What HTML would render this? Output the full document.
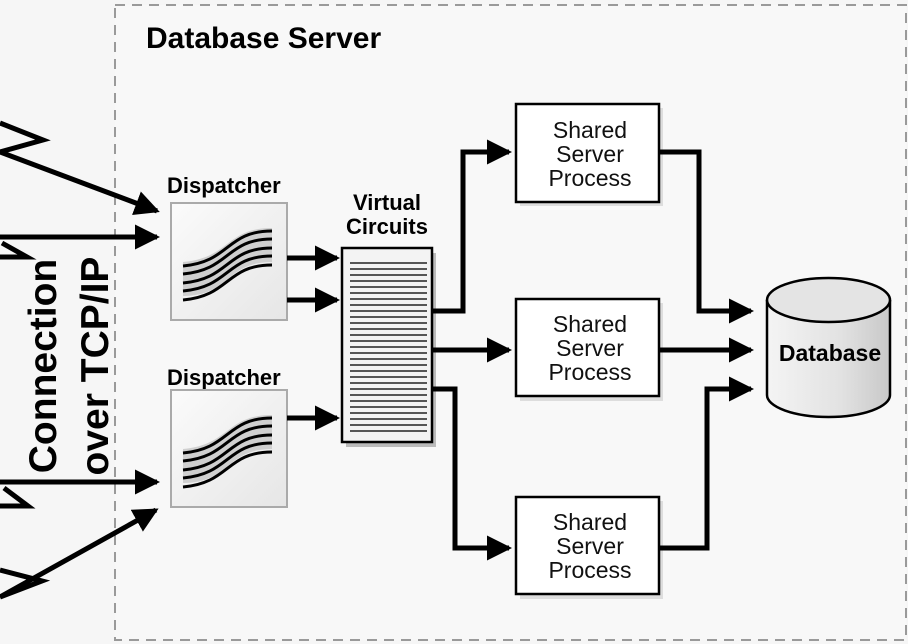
<!DOCTYPE html>
<html><head><meta charset="utf-8"><style>
html,body{margin:0;padding:0;background:#f6f6f6;}
svg{display:block;}
text{font-family:"Liberation Sans",Arial,sans-serif;}
</style></head><body>
<svg width="908" height="644" viewBox="0 0 908 644" xmlns="http://www.w3.org/2000/svg">
<defs>
<marker id="ah" markerWidth="5" markerHeight="5" refX="4.4" refY="2.5" orient="auto" markerUnits="strokeWidth">
<path d="M0,0 L5,2.5 L0,5 Z" fill="#000"/></marker>
<linearGradient id="dg" x1="0" y1="0" x2="1" y2="1"><stop offset="0" stop-color="#fbfbfb"/><stop offset="1" stop-color="#e6e6e6"/></linearGradient>
<linearGradient id="cg" x1="0" y1="0" x2="1" y2="0"><stop offset="0" stop-color="#f4f4f4"/><stop offset="0.6" stop-color="#e2e2e2"/><stop offset="1" stop-color="#c8c8c8"/></linearGradient>
</defs>
<rect x="0" y="0" width="908" height="644" fill="#f6f6f6"/>
<rect x="115" y="5" width="791" height="635" fill="#f8f8f8" stroke="#9a9a9a" stroke-width="2" stroke-dasharray="10,7"/>
<text x="146" y="48" font-size="30" font-weight="bold">Database Server</text>

<!-- incoming -->
<g fill="none" stroke="#000" stroke-width="5" stroke-linejoin="miter">
<polyline points="0,123 43,140 0,152"/>
<line x1="0" y1="152" x2="157" y2="211" marker-end="url(#ah)"/>
<line x1="0" y1="237" x2="157" y2="237" marker-end="url(#ah)"/>
<polyline points="2,243 27,257 0,257"/>
<line x1="0" y1="482" x2="157" y2="482" marker-end="url(#ah)"/>
<polyline points="4,488 28,506 0,506"/>
<polyline points="0,570 42,581 0,597"/>
<line x1="0" y1="597" x2="156" y2="510" marker-end="url(#ah)"/>
</g>

<text transform="translate(56,366) rotate(-90)" text-anchor="middle" font-size="39" font-weight="bold">Connection</text>
<text transform="translate(108,366) rotate(-90)" text-anchor="middle" font-size="39" font-weight="bold">over TCP/IP</text>

<!-- dispatchers -->
<text x="167" y="193" font-size="22" font-weight="bold">Dispatcher</text>
<text x="167" y="385" font-size="22" font-weight="bold">Dispatcher</text>
<g>
<rect x="171" y="203" width="116" height="117" fill="url(#dg)" stroke="#aaa" stroke-width="2"/>
<path d="M183,262 C230,258 226,228 272,228 L272,262 C226,262 230,296 183,296Z" fill="#cfcfcf"/>
<g fill="none" stroke="#000" stroke-width="3">
<path d="M183,266 C230,262 226,231 272,231"/>
<path d="M183,274 C230,270 226,239 272,239"/>
<path d="M183,283 C230,279 226,248 272,248"/>
<path d="M183,291 C230,287 226,256 272,256"/>
<path d="M183,300 C230,296 226,265 272,265"/>
</g>
</g>
<g transform="translate(0,187)">
<rect x="171" y="203" width="116" height="117" fill="url(#dg)" stroke="#aaa" stroke-width="2"/>
<path d="M183,262 C230,258 226,228 272,228 L272,262 C226,262 230,296 183,296Z" fill="#cfcfcf"/>
<g fill="none" stroke="#000" stroke-width="3">
<path d="M183,266 C230,262 226,231 272,231"/>
<path d="M183,274 C230,270 226,239 272,239"/>
<path d="M183,283 C230,279 226,248 272,248"/>
<path d="M183,291 C230,287 226,256 272,256"/>
<path d="M183,300 C230,296 226,265 272,265"/>
</g>
</g>

<!-- virtual circuits -->
<text x="387" y="210" text-anchor="middle" font-size="22" font-weight="bold">Virtual</text>
<text x="387" y="234" text-anchor="middle" font-size="22" font-weight="bold">Circuits</text>
<rect x="346" y="253" width="90" height="194" fill="#bbb"/>
<rect x="342" y="248" width="90" height="194" fill="#f3f3f3" stroke="#000" stroke-width="2.5"/>
<g stroke="#222" stroke-width="1.6">
<line x1="350" x2="427" y1="263" y2="263"/><line x1="350" x2="427" y1="269" y2="269"/><line x1="350" x2="427" y1="275" y2="275"/><line x1="350" x2="427" y1="281" y2="281"/><line x1="350" x2="427" y1="287" y2="287"/><line x1="350" x2="427" y1="293" y2="293"/><line x1="350" x2="427" y1="299" y2="299"/><line x1="350" x2="427" y1="305" y2="305"/><line x1="350" x2="427" y1="311" y2="311"/><line x1="350" x2="427" y1="317" y2="317"/><line x1="350" x2="427" y1="323" y2="323"/><line x1="350" x2="427" y1="329" y2="329"/><line x1="350" x2="427" y1="335" y2="335"/><line x1="350" x2="427" y1="341" y2="341"/><line x1="350" x2="427" y1="347" y2="347"/><line x1="350" x2="427" y1="353" y2="353"/><line x1="350" x2="427" y1="359" y2="359"/><line x1="350" x2="427" y1="365" y2="365"/><line x1="350" x2="427" y1="371" y2="371"/><line x1="350" x2="427" y1="377" y2="377"/><line x1="350" x2="427" y1="383" y2="383"/><line x1="350" x2="427" y1="389" y2="389"/><line x1="350" x2="427" y1="395" y2="395"/><line x1="350" x2="427" y1="401" y2="401"/><line x1="350" x2="427" y1="407" y2="407"/><line x1="350" x2="427" y1="413" y2="413"/><line x1="350" x2="427" y1="419" y2="419"/><line x1="350" x2="427" y1="425" y2="425"/><line x1="350" x2="427" y1="431" y2="431"/>
</g>

<!-- shared server boxes -->
<g font-size="23" text-anchor="middle" fill="#111">
<rect x="520" y="108" width="143" height="98" fill="#ddd"/>
<rect x="516" y="104" width="143" height="98" fill="#fff" stroke="#000" stroke-width="2.5"/>
<text x="590" y="138">Shared</text><text x="590" y="162">Server</text><text x="590" y="186">Process</text>
<rect x="520" y="303" width="143" height="98" fill="#ddd"/>
<rect x="516" y="299" width="143" height="97" fill="#fff" stroke="#000" stroke-width="2.5"/>
<text x="590" y="332">Shared</text><text x="590" y="356">Server</text><text x="590" y="380">Process</text>
<rect x="520" y="501" width="143" height="98" fill="#ddd"/>
<rect x="516" y="497" width="143" height="97" fill="#fff" stroke="#000" stroke-width="2.5"/>
<text x="590" y="530">Shared</text><text x="590" y="554">Server</text><text x="590" y="578">Process</text>
</g>

<g fill="none" stroke="#000" stroke-width="5">
<line x1="287" y1="258" x2="337" y2="258" marker-end="url(#ah)"/>
<line x1="287" y1="300" x2="337" y2="300" marker-end="url(#ah)"/>
<line x1="287" y1="418" x2="337" y2="418" marker-end="url(#ah)"/>
<polyline points="432,311 463,311 463,152 509,152" marker-end="url(#ah)"/>
<line x1="432" y1="350" x2="509" y2="350" marker-end="url(#ah)"/>
<polyline points="432,389 455,389 455,548 509,548" marker-end="url(#ah)"/>
<polyline points="659,152 699,152 699,311 751,311" marker-end="url(#ah)"/>
<line x1="659" y1="350" x2="751" y2="350" marker-end="url(#ah)"/>
<polyline points="659,548 707,548 707,389 751,389" marker-end="url(#ah)"/>
</g>

<!-- database cylinder -->
<path d="M767,300 L767,395 A61.5,22 0 0 0 890,395 L890,300" fill="url(#cg)" stroke="#000" stroke-width="2.5"/>
<ellipse cx="828.5" cy="300" rx="61.5" ry="22" fill="#e4e4e4" stroke="#000" stroke-width="2.5"/>
<text x="830" y="361" text-anchor="middle" font-size="23" font-weight="bold">Database</text>
</svg>
</body></html>
